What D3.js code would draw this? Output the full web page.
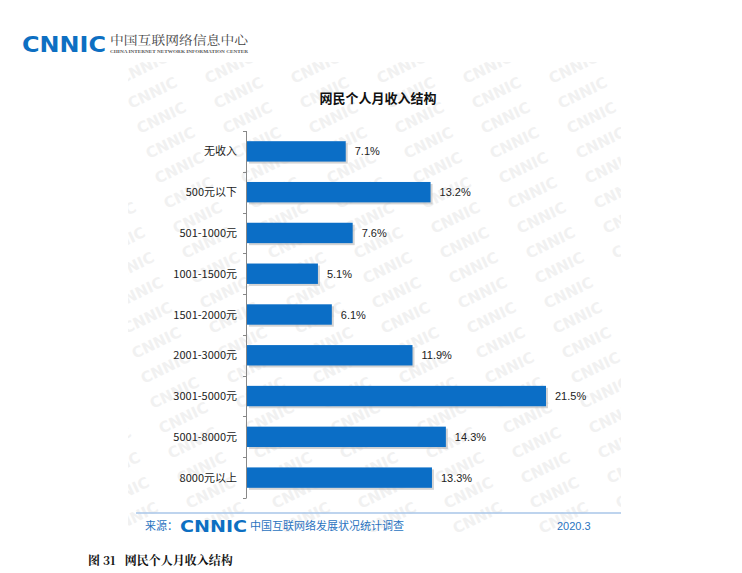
<!DOCTYPE html>
<html lang="zh">
<head>
<meta charset="UTF-8">
<title>网民个人月收入结构</title>
<script src="https://d3js.org/d3.v7.min.js"></script>
<style>
    body { margin: 0; background: #fff; }
    svg { display: block; font-family: "Noto Sans CJK SC", "Liberation Sans", sans-serif; }
    .cat { font-size: 11px; fill: #222; }
    .val { font-size: 11px; fill: #222; font-family: "Liberation Sans", Arial, sans-serif; }
    .bar { fill: #0b6ec6; }
    .shadow { fill: #b8b8b8; opacity: 0.6; }
    .wm { font-family: "DejaVu Sans", sans-serif; font-weight: bold; font-size: 15px; fill: #f1f1f1; }
</style>
</head>
<body>
<svg width="742" height="573"></svg>
<script>
    // data
    const categories = ["无收入", "500元以下", "501-1000元", "1001-1500元", "1501-2000元",
        "2001-3000元", "3001-5000元", "5001-8000元", "8000元以上"];
    const values = [7.1, 13.2, 7.6, 5.1, 6.1, 11.9, 21.5, 14.3, 13.3];

    const svg = d3.select("svg");

    // watermark, clipped to the chart panel
    svg.append("clipPath").attr("id", "panel")
        .append("rect").attr("x", 128).attr("y", 62).attr("width", 493).attr("height", 478);
    const wm = svg.append("g").attr("clip-path", "url(#panel)");
    for (let c = -7; c < 7; c++) {
        for (let r = 0; r < 19; r++) {
            const x = 122 + c * 86 + r * 9;
            const y = 84 + r * 25;
            if (x < 70 || x > 625) continue;
            wm.append("text").attr("class", "wm")
                .attr("transform", `translate(${x},${y}) rotate(-26)`)
                .text("CNNIC");
        }
    }

    // header logo
    svg.append("text").attr("x", 22).attr("y", 52)
        .style("font-family", "DejaVu Sans").style("font-weight", "bold").style("font-size", "21px")
        .attr("fill", "#0d6fc2").attr("textLength", 84).attr("lengthAdjust", "spacingAndGlyphs")
        .text("CNNIC");
    svg.append("text").attr("x", 110).attr("y", 45)
        .style("font-family", "Noto Serif CJK SC, Noto Sans CJK SC").style("font-size", "12px")
        .attr("fill", "#444").attr("textLength", 138).attr("lengthAdjust", "spacingAndGlyphs")
        .text("中国互联网络信息中心");
    svg.append("text").attr("x", 110).attr("y", 53)
        .style("font-family", "Liberation Serif").style("font-size", "4px").style("font-weight", "bold")
        .attr("fill", "#555").attr("textLength", 138).attr("lengthAdjust", "spacingAndGlyphs")
        .text("CHINA INTERNET NETWORK INFORMATION CENTER");

    // title
    svg.append("text").attr("x", 378).attr("y", 103).attr("text-anchor", "middle")
        .style("font-size", "13px").style("font-weight", "bold").attr("fill", "#111")
        .text("网民个人月收入结构");

    // scales
    const x = d3.scaleLinear().domain([0, 21.5]).range([247, 546]);
    const y = d3.scaleBand().domain(categories).range([131, 498]).paddingInner(0.5).paddingOuter(0.25);

    // bars with a soft shadow
    const g = svg.append("g");
    g.selectAll(".shadow").data(values).join("rect").attr("class", "shadow")
        .attr("x", x(0) + 2).attr("y", (d, i) => y(categories[i]) + 2)
        .attr("width", d => x(d) - x(0)).attr("height", y.bandwidth());
    g.selectAll(".bar").data(values).join("rect").attr("class", "bar")
        .attr("x", x(0)).attr("y", (d, i) => y(categories[i]))
        .attr("width", d => x(d) - x(0)).attr("height", y.bandwidth());

    g.selectAll(".val").data(values).join("text").attr("class", "val")
        .attr("x", d => x(d) + 9).attr("y", (d, i) => y(categories[i]) + y.bandwidth() / 2 + 4)
        .text(d => d.toFixed(1) + "%");

    // category axis
    const step = y.step();
    const axis = svg.append("g");
    axis.append("line").attr("x1", 246.5).attr("x2", 246.5).attr("y1", 131).attr("y2", 498)
        .attr("stroke", "#888");
    d3.range(categories.length + 1).forEach(i => {
        const ty = Math.round(131 + i * step) + 0.5;
        axis.append("line").attr("x1", 243).attr("x2", 246.5).attr("y1", ty).attr("y2", ty)
            .attr("stroke", "#888");
    });
    axis.selectAll(".cat").data(categories).join("text").attr("class", "cat")
        .attr("x", 237).attr("y", d => y(d) + y.bandwidth() / 2 + 4)
        .attr("text-anchor", "end").text(d => d);

    // footer
    svg.append("line").attr("x1", 136).attr("x2", 621).attr("y1", 513).attr("y2", 513)
        .attr("stroke", "#a9c6e8").attr("stroke-width", 1.5);
    svg.append("text").attr("x", 145).attr("y", 530).style("font-size", "11px").attr("fill", "#2a73c0")
        .text("来源：");
    svg.append("text").attr("x", 180).attr("y", 532)
        .style("font-family", "DejaVu Sans").style("font-weight", "bold").style("font-size", "16px")
        .attr("fill", "#0d6fc2").attr("textLength", 67).attr("lengthAdjust", "spacingAndGlyphs")
        .text("CNNIC");
    svg.append("text").attr("x", 250).attr("y", 530).style("font-size", "11px").attr("fill", "#2a73c0")
        .text("中国互联网络发展状况统计调查");
    svg.append("text").attr("x", 557).attr("y", 530).style("font-size", "11px").attr("fill", "#2a73c0")
        .style("font-family", "Liberation Sans").text("2020.3");

    // caption
    svg.append("text").attr("x", 88).attr("y", 565)
        .style("font-family", "Noto Serif CJK SC, Noto Sans CJK SC").style("font-size", "12px").style("font-weight", "bold")
        .attr("fill", "#111").attr("xml:space", "preserve").text("图 31   网民个人月收入结构");
</script>
</body>
</html>
